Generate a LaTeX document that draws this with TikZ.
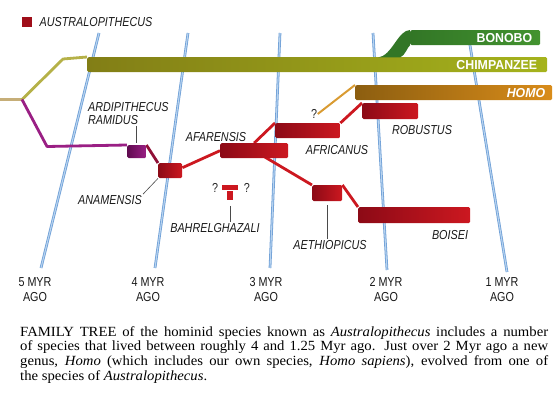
\documentclass[tikz,border=0pt]{standalone}
\usepackage{fontspec}
\newfontfamily\lblfont[FakeStretch=0.83]{Liberation Sans}
\newfontfamily\barfont[FakeStretch=0.95]{Liberation Sans}
\newfontfamily\capfont[FakeStretch=1.05]{Liberation Serif}
\usetikzlibrary{positioning,calc,backgrounds}
\usepackage{xcolor}
\definecolor{aus}{HTML}{CC1820}
\definecolor{ausdark}{HTML}{8C0A16}
\definecolor{chimp}{HTML}{A5B31C}
\definecolor{chimpdark}{HTML}{827E16}
\definecolor{bonobo}{HTML}{43932F}
\definecolor{bonobodark}{HTML}{327626}
\definecolor{homo}{HTML}{D98C1A}
\definecolor{homodark}{HTML}{8C5E10}
\definecolor{ardi}{HTML}{9A1F84}
\definecolor{ardidark}{HTML}{600B50}
\definecolor{olivestem}{HTML}{B5B148}
\definecolor{tanstem}{HTML}{C6AE78}
\definecolor{homostem}{HTML}{D99B32}
\definecolor{timeblue}{HTML}{6E9FD6}
\definecolor{timelight}{HTML}{B7D3F0}
\definecolor{ptrgray}{HTML}{4A4A4A}

\begin{document}
\begin{tikzpicture}[x=1pt, y=-1pt,
    spbar/.style={draw=none, rounded corners=1.5pt, left color=#1dark, right color=#1, inner sep=0pt, minimum height=15pt, anchor=north west},
    branch/.style={draw=#1, line width=2.8pt, line join=round},
    timeline/.style={draw=timeblue, line width=0.8pt, double=timelight, double distance=1.1pt},
    lbl/.style={font={\lblfont\fontsize{13pt}{13pt}\selectfont\itshape}, inner sep=1pt, text=black!90},
    yrlbl/.style={font={\lblfont\fontsize{13pt}{15pt}\selectfont}, align=center, inner sep=0pt, text=black!90},
    barlbl/.style={font={\barfont\fontsize{13pt}{13pt}\selectfont\bfseries}, text=white, inner sep=0pt, anchor=east},
    qm/.style={font={\lblfont\fontsize{13pt}{13pt}\selectfont}, inner sep=0.5pt, text=black!85},
    ptr/.style={draw=ptrgray, line width=0.6pt},
]
\useasboundingbox (0,0) rectangle (554,393);

% Legend
\node[fill=ausdark!70!aus, minimum size=10pt, inner sep=0pt, anchor=north west] (legsq) at (22,17) {};
\node[lbl, right=6pt of legsq] (leglbl) {AUSTRALOPITHECUS};

% Species bars
\node[spbar=chimp, minimum width=460pt] (chimp) at (87,57) {};
\node[spbar=bonobo, minimum width=130pt] (bonobo) at (410,30) {};
\node[spbar=homo, minimum width=197pt] (homo) at (355,85) {};
\node[spbar=ardi, minimum width=19pt, minimum height=13pt] (ramidus) at (127,145) {};
\node[spbar=aus, minimum width=24pt] (anam) at (158,163) {};
\node[spbar=aus, minimum width=68pt] (afar) at (220,143) {};
\node[spbar=aus, minimum width=65pt] (afric) at (275,123) {};
\node[spbar=aus, minimum width=56pt, minimum height=16pt] (robust) at (362,103) {};
\node[spbar=aus, minimum width=30pt, minimum height=16pt] (aeth) at (312,185) {};
\node[spbar=aus, minimum width=112pt, minimum height=16pt] (boisei) at (358,207) {};
\node[fill=aus, minimum width=16pt, minimum height=5pt, inner sep=0pt, anchor=north] (bahrtop) at (230,185) {};
\node[fill=aus, minimum width=6pt, minimum height=9pt, inner sep=0pt, anchor=north] (bahr) at (bahrtop.south) {};

% Bonobo split
\fill[bonobodark] (378,57.5) .. controls (392,56) and (398,30) .. (bonobo.north west) -- (bonobo.south west) .. controls (408,46) and (405,56) .. (400,57.5) -- cycle;

\node[barlbl] (chimplbl) at ([xshift=-10pt]chimp.east) {CHIMPANZEE};
\node[barlbl] (bonobolbl) at ([xshift=-8pt]bonobo.east) {BONOBO};
\node[barlbl, font={\barfont\fontsize{13pt}{13pt}\selectfont\bfseries\itshape}] (homolbl) at ([xshift=-7pt]homo.east) {HOMO};

\begin{scope}[on background layer]
\foreach \n/\xt/\xb/\yb/\xl in {5/99/41/268/35, 4/188/155/268/148, 3/280/270/268/266, 2/373/387/270/386, 1/468/507/272/502} {
  \coordinate (top\n) at (\xt,33);
  \coordinate (bot\n) at (\xb,\yb);
  \draw[timeline] (top\n) -- (bot\n);
  \node[yrlbl] (yr\n) at (\xl,290) {\n\ MYR\\AGO};
}
\coordinate (root) at (0,99.5);
\coordinate (split) at (22,99.5);
\draw[branch=tanstem] (root) -- (split);
\draw[branch=olivestem] (split) -- (63,59) -- (chimp.north west);
\draw[branch=ardi] (split) -- (47,146.5) -- (ramidus.north west);
\draw[branch=ausdark!70!ardi] (ramidus.north east) -- (anam.north west);
\draw[branch=aus] ([yshift=3pt]anam.east) -- (afar.west);
\draw[branch=aus] (afar.north) -- (afric.north west);
\draw[branch=aus] (afric.north east) -- (robust.north west);
\draw[branch=aus] (afar.center) -- (aeth.north west);
\draw[branch=aus] (aeth.north east) -- (boisei.north west);
\end{scope}

% Homo origin
\node[qm] (homoq) at (314,114) {?};
\draw[branch=homostem, line width=2pt] (homoq.east) -- (homo.north west);

% Species labels
\node[lbl, align=left, anchor=north west] (ramlbl) at (87,101) {ARDIPITHECUS\\RAMIDUS};
\node[lbl] (anamlbl) at (110,200) {ANAMENSIS};
\node[lbl] (afarlbl) at (216,137) {AFARENSIS};
\node[lbl] (bahrlbl) at (215,228) {BAHRELGHAZALI};
\node[lbl] (africlbl) at (337,150) {AFRICANUS};
\node[lbl] (robustlbl) at (422,130) {ROBUSTUS};
\node[lbl] (aethlbl) at (330,245) {AETHIOPICUS};
\node[lbl] (boiselbl) at (450,235) {BOISEI};
\node[qm, left=3pt of bahrtop] (bahrq1) {?};
\node[qm, right=5pt of bahrtop] (bahrq2) {?};

\draw[ptr] (ramidus.north |- ramlbl.south) -- ([yshift=2pt]ramidus.north);
\draw[ptr] (anam.south west) -- (anamlbl.north east);
\draw[ptr] ([yshift=-6pt]bahr.south) -- (bahr.south |- bahrlbl.north);
\draw[ptr] ([yshift=-4pt]aeth.south) -- (aeth.south |- aethlbl.north);

% Caption
\node[anchor=north west, inner sep=0pt, text width=528pt, align=justify, font={\capfont\fontsize{14pt}{14.7pt}\selectfont}] (caption) at (20,326) {FAMILY TREE of the hominid species known as \textit{Australopithecus} includes a number\linebreak of species that lived between roughly 4 and 1.25 Myr ago. Just over 2 Myr ago a new\linebreak genus, \textit{Homo} (which includes our own species, \textit{Homo sapiens}), evolved from one of\linebreak the species of \textit{Australopithecus}.};
\end{tikzpicture}
\end{document}
